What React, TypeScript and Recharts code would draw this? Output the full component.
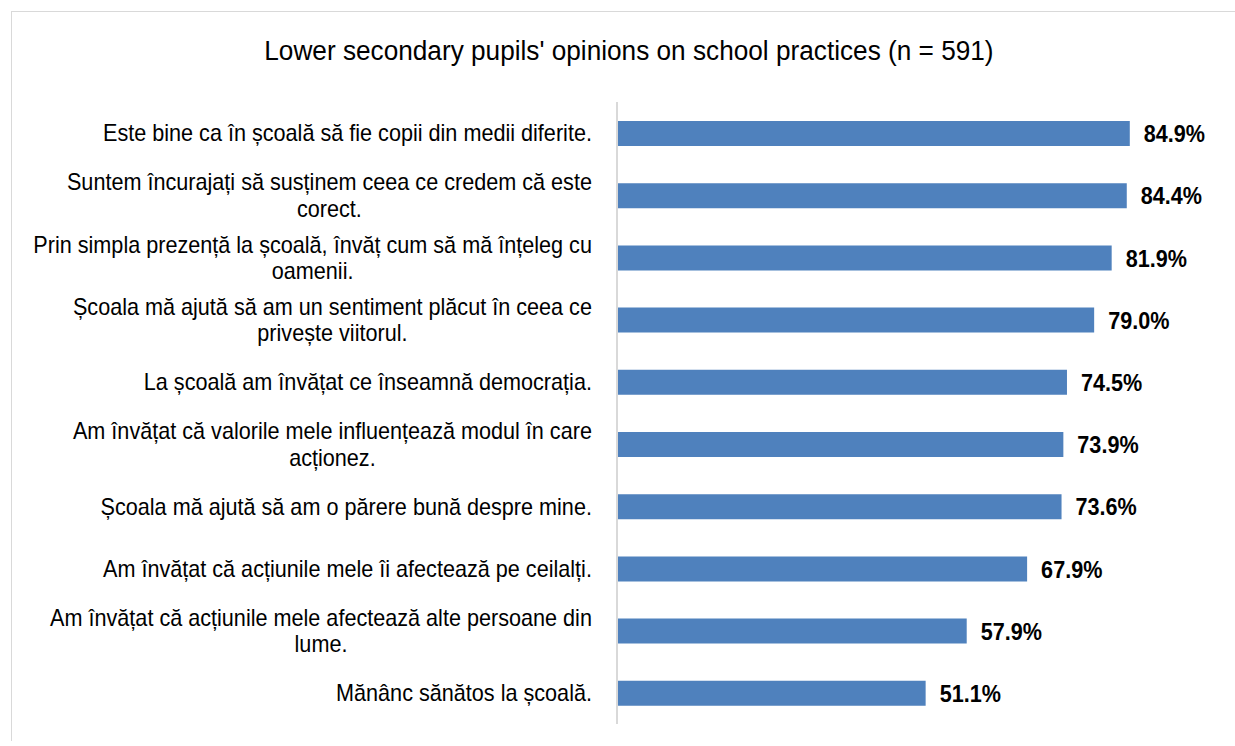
import { BarChart, Bar, XAxis, YAxis, LabelList } from 'recharts';

const title = "Lower secondary pupils' opinions on school practices (n = 591)";

// tick labels, line breaks as in the source chart
const categories = [
  'Este bine ca în școală să fie copii din medii diferite.',
  'Suntem încurajați să susținem ceea ce credem că este\ncorect.',
  'Prin simpla prezență la școală, învăț cum să mă înțeleg cu\noamenii.',
  'Școala mă ajută să am un sentiment plăcut în ceea ce\nprivește viitorul.',
  'La școală am învățat ce înseamnă democrația.',
  'Am învățat că valorile mele influențează modul în care\nacționez.',
  'Școala mă ajută să am o părere bună despre mine.',
  'Am învățat că acțiunile mele îi afectează pe ceilalți.',
  'Am învățat că acțiunile mele afectează alte persoane din\nlume.',
  'Mănânc sănătos la școală.',
];

const values = [84.9, 84.4, 81.9, 79.0, 74.5, 73.9, 73.6, 67.9, 57.9, 51.1];

const data = categories.map((name, i) => ({ name, value: values[i] }));

const FONT = '"Liberation Sans", Arial, sans-serif';
const TICK_SIZE = 23;
const TICK_SX = 0.94; // source text is slightly condensed
const LINE_H = 26.4;
const VALUE_SIZE = 24;
const VALUE_SX = 0.9;

const ctx = typeof document !== 'undefined' ? document.createElement('canvas').getContext('2d') : null;
function textWidth(t: string) {
  if (!ctx) return t.length * 10;
  ctx.font = `${TICK_SIZE}px ${FONT}`;
  return ctx.measureText(t).width * TICK_SX;
}

function CategoryTick(props: any) {
  const { x, y, payload } = props;
  const lines: string[] = String(payload.value).split('\n');
  const blockW = Math.max(...lines.map(textWidth));
  const cx = x - blockW / 2;
  const startY = y - ((lines.length - 1) * LINE_H) / 2;
  return (
    <g>
      {lines.map((line, i) => (
        <text
          key={i}
          transform={`translate(${cx} ${startY + i * LINE_H}) scale(${TICK_SX} 1)`}
          dy="0.36em"
          textAnchor="middle"
          fill="#000"
          fontSize={TICK_SIZE}
          fontFamily={FONT}
        >
          {line}
        </text>
      ))}
    </g>
  );
}

function ValueLabel(props: any) {
  const { x, y, width, height, value } = props;
  const tx = Number(x) + Number(width) + 14;
  const ty = Number(y) + Number(height) / 2;
  return (
    <text
      transform={`translate(${tx} ${ty}) scale(${VALUE_SX} 1)`}
      dy="0.36em"
      textAnchor="start"
      fill="#000"
      fontSize={VALUE_SIZE}
      fontWeight="bold"
      fontFamily={FONT}
    >
      {`${Number(value).toFixed(1)}%`}
    </text>
  );
}

export default function App() {
  return (
    <div
      style={{
        position: 'absolute',
        left: 11,
        top: 11,
        width: 1224,
        height: 730,
        boxSizing: 'border-box',
        borderTop: '1px solid #d9d9d9',
        borderLeft: '1px solid #d9d9d9',
        background: '#fff',
      }}
    >
      <div
        style={{
          position: 'absolute',
          top: 24,
          left: 0,
          width: '100%',
          paddingLeft: 11,
          boxSizing: 'border-box',
          textAlign: 'center',
          fontFamily: FONT,
          fontSize: 27,
          lineHeight: '31px',
          color: '#000',
        }}
      >
        <span style={{ display: 'inline-block', transform: 'scaleX(0.97)' }}>{title}</span>
      </div>
      <BarChart
        width={1223}
        height={729}
        data={data}
        layout="vertical"
        margin={{ top: 90, right: 14, bottom: 17, left: 0 }}
        barSize={25}
      >
        <XAxis type="number" domain={[0, 100]} hide />
        <YAxis
          type="category"
          dataKey="name"
          width={605}
          interval={0}
          tickLine={false}
          tickSize={0}
          tickMargin={25}
          axisLine={{ stroke: '#d9d9d9', strokeWidth: 2 }}
          tick={<CategoryTick />}
        />
        <Bar dataKey="value" fill="#4f81bd" isAnimationActive={false}>
          <LabelList dataKey="value" content={<ValueLabel />} />
        </Bar>
      </BarChart>
    </div>
  );
}
